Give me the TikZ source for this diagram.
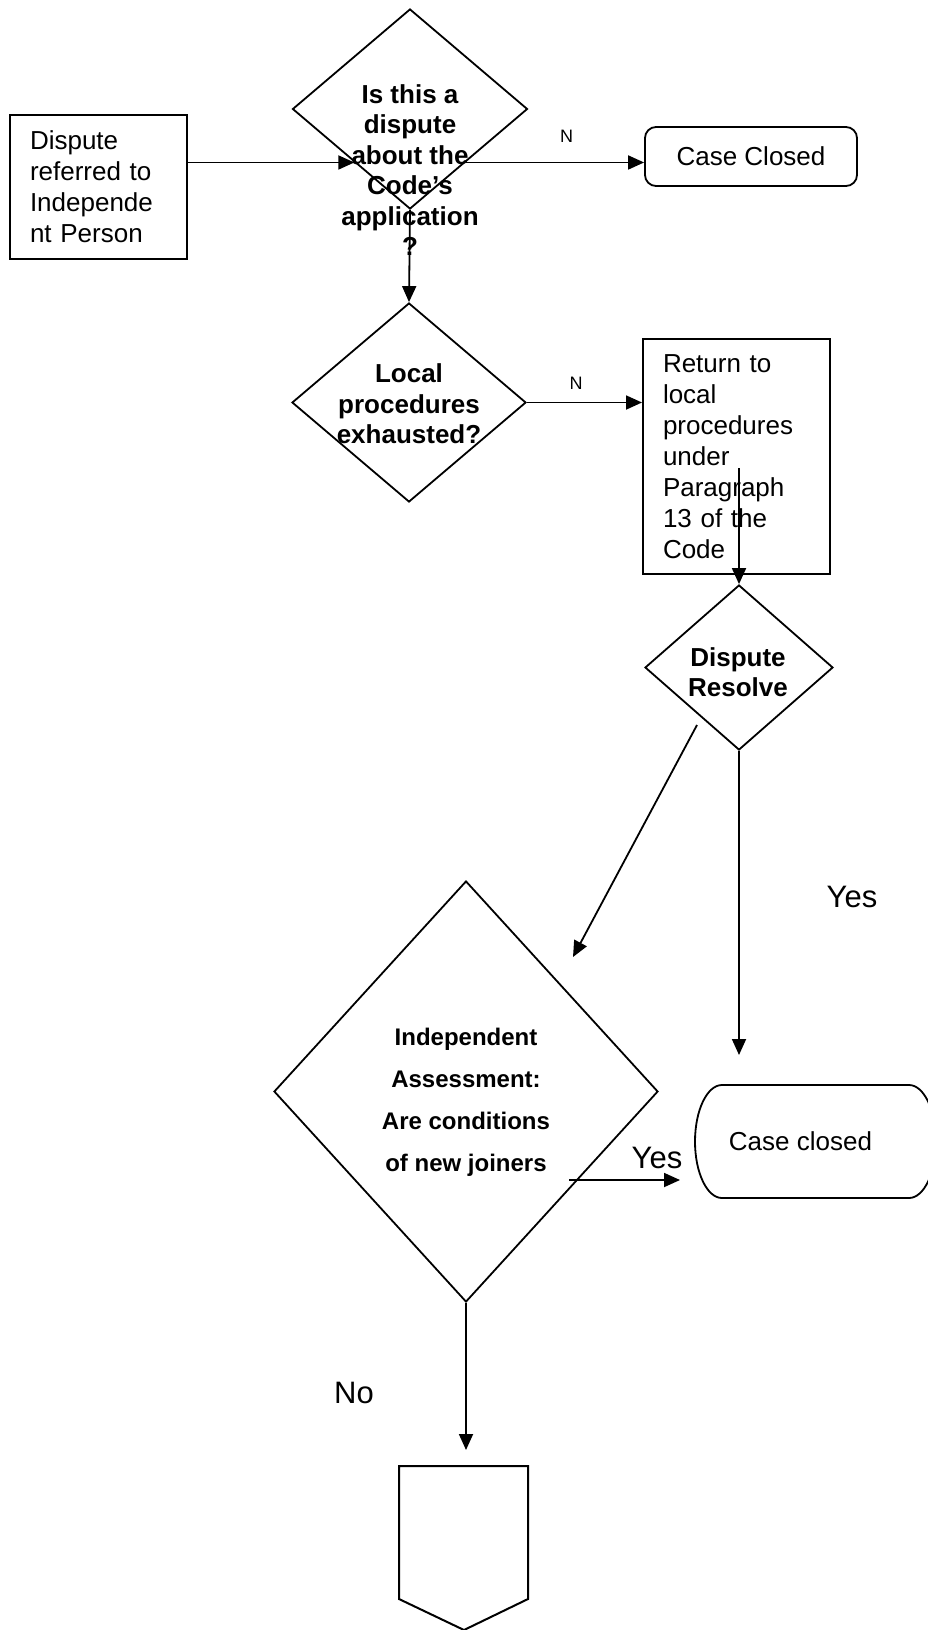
\documentclass[tikz,border=0pt]{standalone}
\usepackage{fontspec}
\setmainfont{Liberation Sans}
\usetikzlibrary{shapes.geometric,arrows.meta,calc}

\begin{document}
\begin{tikzpicture}[x=1pt,y=-1pt,
  box/.style={draw=cline,line width=2pt,rectangle,inner xsep=20pt,inner ysep=0pt,align=left,font=\fontsize{26}{31}\selectfont},
  term/.style={draw=cline,line width=1.8pt,font=\fontsize{26}{31}\selectfont},
  decision/.style={draw=cline,line width=1.8pt,diamond,inner sep=0pt},
  dtext/.style={align=center,inner sep=0pt,font=\fontsize{26}{30.5}\selectfont\bfseries},
  tag/.style={inner sep=0pt,font=\fontsize{31}{36}\selectfont},
  smalltag/.style={inner sep=0pt,font=\fontsize{18}{20}\selectfont},
  flow/.style={draw=cline,line width=1.8pt,-{Triangle[length=16pt,width=14pt]}},
]
%
\useasboundingbox (0,0) rectangle (927,1630);
%
\definecolor{cline}{rgb}{0.0,0.0,0.0}
%
\node[box,text width=137pt,minimum height=144pt] (dispute) at (98.5,187) {Dispute\\referred to\\Independe\\nt Person};
\node[decision,minimum width=235pt,minimum height=200pt] (q1) at (410,109) {};
\node[dtext] (q1txt) at (410,170) {Is this a\\dispute\\about the\\Code’s\\application\\?};
\node[term,rounded corners=11pt,minimum width=212pt,minimum height=59pt] (closed1) at (751,156.5) {Case Closed};
%
\node[decision,minimum width=234pt,minimum height=199pt] (q2) at (409,402.5) {};
\node[dtext] (q2txt) at (409,404) {Local\\procedures\\exhausted?};
\node[box,text width=147pt,minimum height=235pt] (ret) at (736.5,456.5) {Return to\\local\\procedures\\under\\Paragraph\\13 of the\\Code};
%
\node[decision,minimum width=188pt,minimum height=165pt] (q3) at (739,667.5) {};
\node[dtext] (q3txt) at (738,672) {Dispute\\Resolve};
%
\node[decision,minimum width=384pt,minimum height=421pt] (q4) at (466,1091.5) {};
\node[dtext,font=\fontsize{24}{42}\selectfont\bfseries] (q4txt) at (466,1102) {Independent\\Assessment:\\Are conditions\\of new joiners};
\node[term,draw=none,outer sep=0pt,minimum width=241pt,minimum height=113pt] (closed2) at (815.5,1141.5) {Case closed\hspace*{30pt}};
\draw[line width=1.8pt,draw=cline] ($(closed2.north west)+(27,0)$) -- ($(closed2.north east)+(-27,0)$)
  arc[start angle=90,end angle=-90,x radius=27pt,y radius=56.5pt]
  -- ($(closed2.south west)+(27,0)$)
  arc[start angle=270,end angle=90,x radius=27pt,y radius=56.5pt] -- cycle;
%
\draw[line width=2pt,draw=cline] (399,1466) -- (528,1466) -- (528,1599) -- (464,1630) -- (399,1599) -- cycle;
\coordinate (endtop) at (464,1466);
%
\node[smalltag] (n1) at (566.5,136.5) {N};
\node[smalltag] (n2) at (576,383) {N};
\node[tag] (yes1) at (852,897) {Yes};
\node[tag] (yes2) at (657,1158) {Yes};
\node[tag] (no1) at (354,1393) {No};
%
\coordinate (q1in) at ($(q1.west)!0.53!(q1.south)$);
\coordinate (q1out) at ($(q1.east)!0.53!(q1.south)$);
\coordinate (retdrop) at (739,468);
\coordinate (noout) at (697,725);
\coordinate (noin) at (573,957);
\coordinate (yesend) at (739,1055);
\coordinate (q4out) at (569,1180);
\coordinate (q4end) at (680,1180);
%
\draw[flow] (dispute.east |- q1in) -- (q1in);
\draw[flow] (q1out) -- (q1out -| closed1.west);
\draw[flow] (q1.south) -- (q2.north);
\draw[flow] (q2.east) -- (q2.east -| ret.west);
\draw[flow] (retdrop) -- (q3.north);
\draw[flow] (noout) -- (noin);
\draw[flow] (q3.south) -- (yesend);
\draw[flow] (q4out) -- (q4end);
\draw[flow,shorten >=16pt] (q4.south) -- (q4.south |- endtop);
%
\end{tikzpicture}
\end{document}
